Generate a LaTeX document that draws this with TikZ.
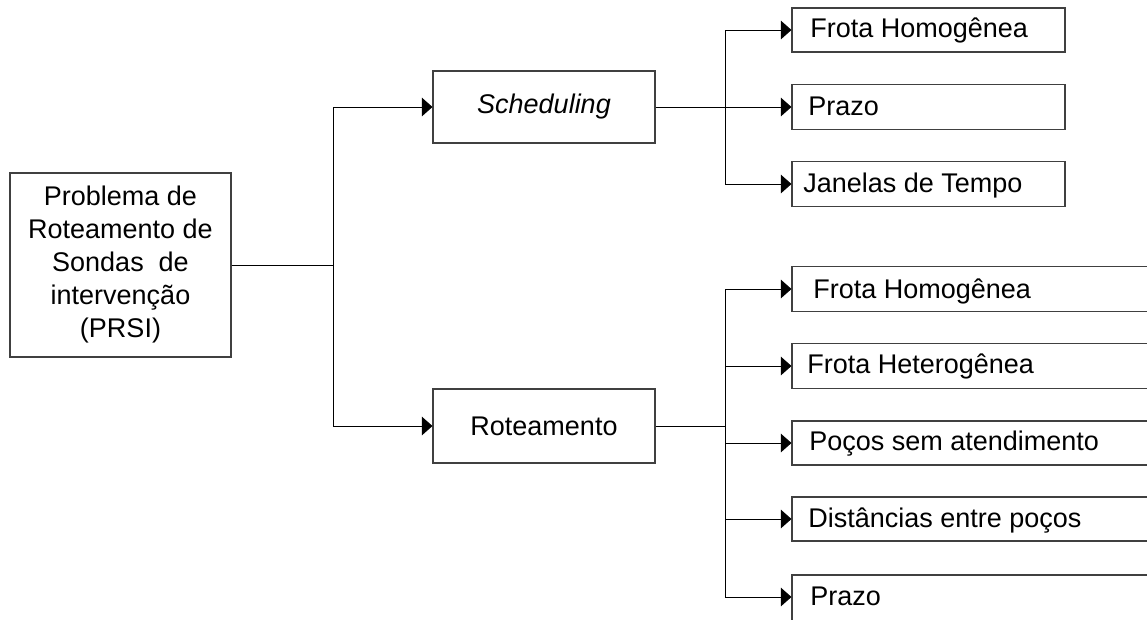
\documentclass[tikz,border=0pt]{standalone}
\usepackage{fontspec}
\setmainfont{Liberation Sans}
\usetikzlibrary{arrows.meta}
\begin{document}
\begin{tikzpicture}[x=0.75pt,y=-0.75pt,
  font=\fontsize{20.25pt}{24.75pt}\selectfont,
  box/.style={draw=black!75,line width=0.8pt,rectangle,inner sep=0pt},
  lbl/.style={anchor=base west,inner sep=0pt},
  conn/.style={draw=black,line width=0.75pt},
  arr/.style={conn,-{Triangle[length=8pt,width=14pt]}}]
\useasboundingbox (0,0) rectangle (1147,619);
\clip (0,0) rectangle (1147,619);
% main
\node[box,minimum width=221*0.75pt,minimum height=184*0.75pt,align=center] (main) at (120.5,265)
  {Problema de\\Roteamento de\\Sondas\ \ de\\intervenção\\(PRSI)};
\node[box,minimum width=222*0.75pt,minimum height=72*0.75pt] (sched) at (544,107) {\itshape Scheduling};
\node[box,minimum width=222*0.75pt,minimum height=74*0.75pt] (rot) at (544,426) {Roteamento};
% upper right
\node[box,minimum width=273*0.75pt,minimum height=44*0.75pt] (u1) at (928.5,30) {};
\node[box,minimum width=273*0.75pt,minimum height=45*0.75pt] (u2) at (928.5,107) {};
\node[box,minimum width=273*0.75pt,minimum height=45*0.75pt] (u3) at (928.5,184) {};
\node[lbl] (tu1) at (810,37) {Frota Homogênea};
\node[lbl] (tu2) at (808,115) {Prazo};
\node[lbl] (tu3) at (803,192) {Janelas de Tempo};
% lower right
\node[box,minimum width=408*0.75pt,minimum height=45*0.75pt] (l1) at (996,289) {};
\node[box,minimum width=408*0.75pt,minimum height=45*0.75pt] (l2) at (996,366) {};
\node[box,minimum width=408*0.75pt,minimum height=44*0.75pt] (l3) at (996,443) {};
\node[box,minimum width=408*0.75pt,minimum height=44*0.75pt] (l4) at (996,519) {};
\node[box,minimum width=408*0.75pt,minimum height=60*0.75pt] (l5) at (996,605) {};
\node[lbl] (tl1) at (813,298) {Frota Homogênea};
\node[lbl] (tl2) at (807,373) {Frota Heterogênea};
\node[lbl] (tl3) at (809,450) {Poços sem atendimento};
\node[lbl] (tl4) at (808,527) {Distâncias entre poços};
\node[lbl] (tl5) at (810,605) {Prazo};
% junctions
\coordinate (j1) at (333,265);
\coordinate (j2) at (725,107);
\coordinate (j3) at (725,426);
% connectors
\draw[conn] (main.east) -- (j1);
\draw[arr] (j1) |- (sched.west);
\draw[arr] (j1) |- (rot.west);
\draw[conn] (sched.east) -- (j2);
\draw[arr] (j2) |- (u1.west);
\draw[arr] (j2) -- (u2.west);
\draw[arr] (j2) |- (u3.west);
\draw[conn] (rot.east) -- (j3);
\draw[arr] (j3) |- (l1.west);
\draw[arr] (j3) |- (l2.west);
\draw[arr] (j3) |- (l3.west);
\draw[arr] (j3) |- (l4.west);
\draw[arr] (j3) |- ([yshift=6pt]l5.west);
\end{tikzpicture}
\end{document}
